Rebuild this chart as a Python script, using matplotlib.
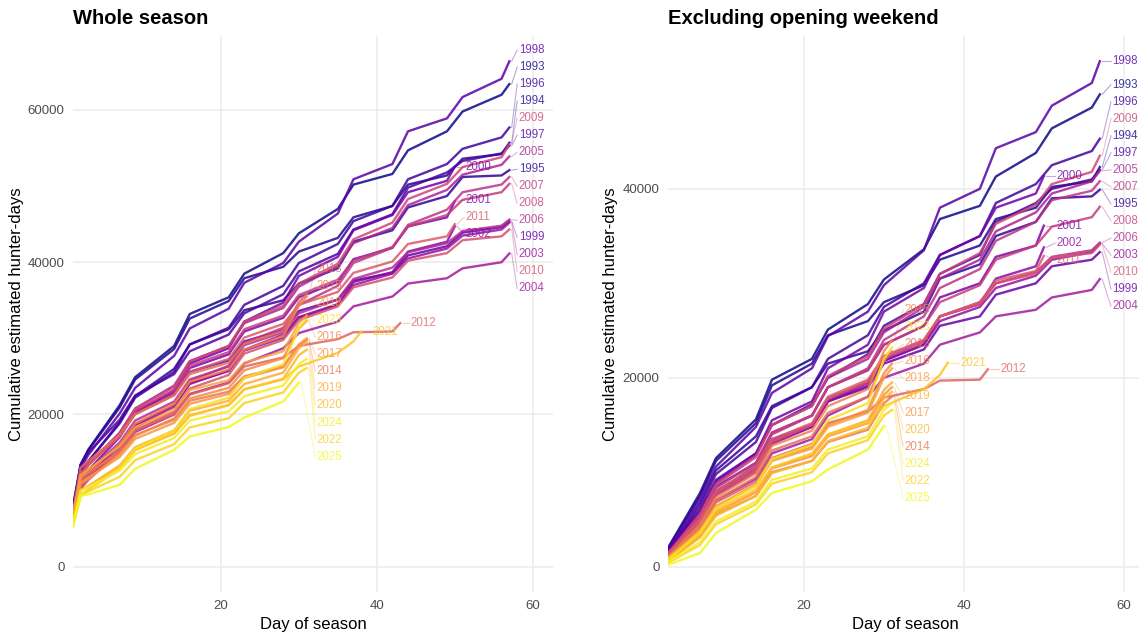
import matplotlib

matplotlib.use("Agg")
import matplotlib.pyplot as plt
import numpy as np

plt.rcParams["font.family"] = ["Liberation Sans", "DejaVu Sans"]

# Season data: hunter-days on day 1, cumulative after opening weekend (day 2),
# and cumulative hunter-days counted from day 3 on (excluding opening weekend).
YEARS = list(range(1993, 2026))
END_DAY = [57] * 7 + [50] * 3 + [57] * 8 + [50, 43] + [31] * 8 + [38] + [31] * 3 + [30]

DAY1 = [7500, 7800, 7200, 6800, 7000, 7000, 6600, 6300, 6700, 6200, 6200,
        6000, 6500, 6100, 5900, 6700, 6500, 5800, 6600, 6300, 7000, 6200,
        6500, 6000, 6000, 6600, 5600, 5600, 5300, 5300, 5400, 5600, 5200]
OPENING = [13400, 13400, 12200, 12400, 13300, 12900, 12100, 11200, 11900, 10900, 11000,
           10700, 12000, 11300, 10400, 12200, 12000, 10200, 12100, 11100, 13000, 11800,
           11500, 10800, 11000, 12000, 10000, 10000, 9300, 9500, 9300, 10000, 9300]

# days after the opening weekend at which the cumulative values below were read
GRID_DAYS = [3, 7, 9, 14, 16, 21, 23, 28, 30, 35, 37, 42, 44, 49, 51, 56, 57]

post_1993 = [2000, 7800, 11500, 15600, 19800, 22000, 25100, 27800, 30400, 33600, 36800, 38200, 41300, 43800, 46400, 48600, 50000]
post_1994 = [1900, 7500, 11200, 15200, 19200, 21500, 24500, 26000, 28000, 29800, 32500, 34000, 36800, 38000, 40200, 40800, 42300]
post_1995 = [1600, 6800, 10200, 13800, 17000, 19000, 21500, 22800, 25000, 27000, 30500, 32000, 35000, 36500, 39000, 39200, 39900]
post_1996 = [1500, 6400, 9800, 13200, 16800, 19000, 22000, 24500, 27500, 30000, 33000, 35000, 38500, 40500, 42500, 44000, 45300]
post_1997 = [1700, 6000, 9200, 12000, 15000, 17200, 20000, 22500, 25500, 27800, 31000, 33000, 36500, 38500, 40000, 41000, 42000]
post_1998 = [1800, 7200, 10600, 14800, 18400, 21000, 24400, 27000, 29800, 33500, 38000, 40000, 44300, 46000, 48800, 51200, 53500]
post_1999 = [1400, 5200, 8000, 10500, 13500, 15000, 17500, 19000, 21500, 23000, 25500, 26500, 28800, 30000, 31800, 32500, 33300]
post_2000 = [1500, 5800, 9000, 12000, 15500, 17500, 21000, 23500, 27000, 29500, 33000, 35000, 38000, 39500, 41350]
post_2001 = [1500, 5400, 8500, 11000, 14200, 16000, 19000, 20800, 23500, 25500, 28500, 30000, 32800, 34000, 36100]
post_2002 = [1300, 5000, 7800, 10300, 13200, 14800, 17500, 19200, 21800, 23500, 26500, 27800, 30500, 31800, 33800]
post_2003 = [1200, 4800, 7600, 10000, 13000, 14800, 17500, 19500, 21800, 23500, 26000, 27500, 29500, 30800, 32500, 33300, 34200]
post_2004 = [1100, 4500, 7000, 9300, 12000, 13500, 16000, 18000, 20000, 21500, 23500, 24800, 26500, 27200, 28500, 29300, 30450]
post_2005 = [1400, 5600, 8800, 11800, 15000, 17000, 20000, 22000, 24800, 27500, 30500, 32500, 35500, 37500, 39500, 40800, 41900]
post_2006 = [1300, 5000, 7900, 10400, 13300, 15000, 17800, 19500, 22000, 23800, 26500, 28000, 30000, 31200, 32800, 33500, 34300]
post_2007 = [1200, 5000, 7800, 10800, 14000, 16000, 19000, 21000, 24000, 26500, 29500, 31500, 34500, 36500, 38800, 39800, 40800]
post_2008 = [1400, 5300, 8300, 11000, 14200, 16000, 19000, 20800, 23500, 25500, 28000, 29800, 32500, 34000, 36000, 37000, 38100]
post_2009 = [1400, 5500, 8700, 11600, 15000, 17000, 20200, 22300, 25200, 27800, 31000, 33200, 36300, 38300, 40500, 41800, 43500]
post_2010 = [1200, 4900, 7700, 10200, 13200, 15000, 17800, 19600, 22200, 24000, 26500, 27800, 30000, 31000, 32700, 33200, 34100]
post_2011 = [1300, 5000, 8000, 10500, 13500, 15200, 18000, 19800, 22300, 24000, 26500, 28000, 30300, 31300, 32900]
post_2012 = [1000, 4200, 6800, 9000, 11500, 13000, 15200, 16400, 17900, 18800, 19700, 19800, 20900]
post_2013 = [900, 4300, 7000, 9500, 12300, 13800, 16300, 18000, 21800, 22800]
post_2014 = [600, 3200, 5500, 7500, 10000, 11200, 13200, 14500, 17300, 18000]
post_2015 = [1000, 4500, 7300, 9900, 12800, 14400, 17000, 18800, 22800, 24000]
post_2016 = [800, 3900, 6400, 8700, 11300, 12700, 15000, 16600, 20500, 21500]
post_2017 = [700, 3400, 5800, 7900, 10400, 11700, 13800, 15200, 18200, 19000]
post_2018 = [800, 3800, 6300, 8600, 11200, 12500, 14800, 16300, 20000, 21000]
post_2019 = [600, 3300, 5700, 7900, 10500, 11800, 14000, 15500, 18700, 19500]
post_2020 = [600, 3100, 5400, 7500, 9900, 11200, 13300, 14700, 17800, 18500]
post_2021 = [900, 3600, 6000, 8200, 10500, 12000, 14000, 15300, 17000, 18800, 20300, 21600]
post_2022 = [400, 2300, 4500, 6600, 8800, 10000, 12000, 13400, 16000, 16600]
post_2023 = [700, 3600, 6200, 8600, 11400, 12900, 15500, 17300, 22000, 23200]
post_2024 = [500, 2600, 4800, 6900, 9200, 10400, 12400, 13800, 16600, 17300]
post_2025 = [210, 1450, 3570, 6050, 7810, 9050, 10290, 12410, 14890]

POST = [post_1993, post_1994, post_1995, post_1996, post_1997, post_1998, post_1999,
        post_2000, post_2001, post_2002, post_2003, post_2004, post_2005, post_2006,
        post_2007, post_2008, post_2009, post_2010, post_2011, post_2012, post_2013,
        post_2014, post_2015, post_2016, post_2017, post_2018, post_2019, post_2020,
        post_2021, post_2022, post_2023, post_2024, post_2025]

FIG_W, FIG_H = 1139, 634
FONT = ["Liberation Sans", "DejaVu Sans"]


def post_days(end_day):
    return [d for d in GRID_DAYS if d < end_day] + [end_day]


def spread(values, gap):
    # isotonic (pool adjacent violators) placement with a minimum gap
    order = np.argsort(values, kind="stable")[::-1]
    v = np.asarray(values, float)[order]
    u = v + np.arange(len(v)) * gap
    blocks = []
    for val in u:
        blocks.append([val, 1])
        while len(blocks) > 1 and blocks[-2][0] / blocks[-2][1] < blocks[-1][0] / blocks[-1][1]:
            s, n = blocks.pop()
            blocks[-1][0] += s
            blocks[-1][1] += n
    w = np.concatenate([[s / n] * n for s, n in blocks])
    y = w - np.arange(len(v)) * gap
    out = np.empty(len(v))
    out[order] = y
    return out


def year_color(i):
    cmap = plt.get_cmap("plasma")
    return cmap((YEARS[i] - YEARS[0]) / (YEARS[-1] - YEARS[0]))


def draw_panel(ax, series, groups, gap):
    for i, (days, vals) in enumerate(series):
        ax.plot(days, vals, color=year_color(i), lw=1.7, alpha=0.85,
                solid_joinstyle="round", zorder=2 + i * 0.01)

    for members, label_x, shift in groups:
        ends = [series[i][1][-1] for i in members]
        ys = spread(ends, gap) + shift
        for i, y in zip(members, ys):
            color = year_color(i)
            end_x = series[i][0][-1]
            end_y = series[i][1][-1]
            ax.plot([end_x + 0.3, label_x - 0.2], [end_y, y], color=color, lw=0.8, alpha=0.35,
                    clip_on=False, zorder=1)
            ax.text(label_x, y, str(YEARS[i]), color=color, alpha=0.8, fontsize=8.3,
                    family=FONT, ha="left", va="center", clip_on=False, zorder=5)


def style_axes(ax, ylim, xlim, yticks, title, left_px, ylabel_x):
    ax.set_xlim(*xlim)
    ax.set_ylim(*ylim)
    ax.set_xticks([20, 40, 60])
    ax.set_yticks(yticks)
    ax.grid(True, color="#ebebeb", lw=1.1)
    ax.set_axisbelow(True)
    for s in ax.spines.values():
        s.set_visible(False)
    ax.tick_params(length=0, colors="#4d4d4d", labelsize=9.5, pad=6)
    for t in ax.get_xticklabels() + ax.get_yticklabels():
        t.set_family(FONT)
    ax.set_xlabel("Day of season", fontsize=12, family=FONT, color="black")
    ax.set_ylabel("Cumulative estimated hunter-days", fontsize=12, family=FONT, color="black")
    ax.xaxis.set_label_coords(0.5, -0.0576)
    ax.xaxis.label.set_va("center")
    ax.yaxis.set_label_coords(ylabel_x, 0.5)
    ax.yaxis.label.set_va("center")
    ax.figure.text(left_px / FIG_W, 1 - 19 / FIG_H, title, fontsize=14.5, fontweight="bold",
                   family=FONT, ha="left", va="center")


def main():
    fig = plt.figure(figsize=(FIG_W / 100, FIG_H / 100), dpi=100)
    bottom = (FIG_H - 592) / FIG_H
    height = 556 / FIG_H
    ax_l = fig.add_axes([72.8 / FIG_W, bottom, (553 - 72.8) / FIG_W, height])
    ax_r = fig.add_axes([668 / FIG_W, bottom, (1143 - 668) / FIG_W, height])

    whole = []
    excl = []
    for d1, op, post, end in zip(DAY1, OPENING, POST, END_DAY):
        days = post_days(end)
        whole.append(([1, 2] + days, [d1, op] + [op + v for v in post]))
        excl.append((days, list(post)))

    idx = {y: i for i, y in enumerate(YEARS)}
    long_ids = [idx[y] for y in YEARS if END_DAY[idx[y]] == 57]
    mid_ids = [idx[y] for y in (2000, 2001, 2002, 2011)]
    short_ids = [idx[y] for y in YEARS if END_DAY[idx[y]] in (30, 31)]

    left_groups = [
        (long_ids, 58.2, 0.0),
        (mid_ids, 51.4, 0.0),
        ([idx[2012]], 44.3, 0.0),
        ([idx[2021]], 39.4, 0.0),
        (short_ids, 32.3, -3600.0),
    ]
    right_groups = [
        (long_ids, 58.6, 0.0),
        (mid_ids, 51.6, 0.0),
        ([idx[2012]], 44.6, 0.0),
        ([idx[2021]], 39.6, 0.0),
        (short_ids, 32.6, -2470.0),
    ]

    draw_panel(ax_l, whole, left_groups, 17 / 0.0076)
    draw_panel(ax_r, excl, right_groups, 17 / 0.009425)

    style_axes(ax_l, (-3320, 69720), (1.0, 62.6), [0, 20000, 40000, 60000],
               "Whole season", 72.8, (17 - 72.8) / (553 - 72.8))
    style_axes(ax_r, (-2675, 56175), (3.0, 62.4), [0, 20000, 40000],
               "Excluding opening weekend", 668, (611 - 668) / (1143 - 668))

    fig.savefig("out.png", dpi=100)
    plt.close(fig)


if __name__ == "__main__":
    main()
